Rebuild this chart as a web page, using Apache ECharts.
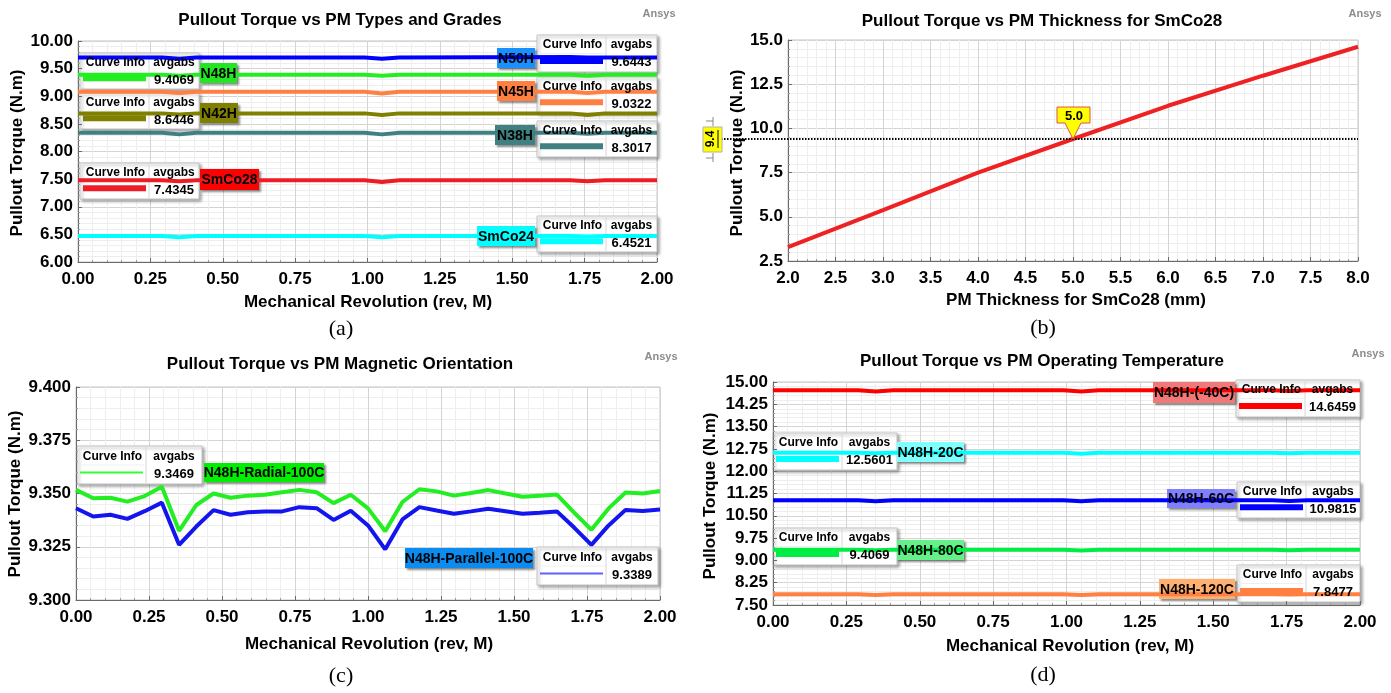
<!DOCTYPE html>
<html>
<head>
<meta charset="utf-8">
<script src="https://cdn.jsdelivr.net/npm/echarts@6/dist/echarts.min.js"></script>
<style>
html, body { margin: 0; padding: 0; background: #fff; }
#main { width: 1391px; height: 693px; }
</style>
</head>
<body>
<div id="main"></div>
<script>
// (a) PM types and grades
var revA = [0, 0.29, 0.35, 0.41, 0.99, 1.05, 1.11, 1.70, 1.76, 1.82, 2.0];
var n50h   = [9.70, 9.70, 9.68, 9.70, 9.70, 9.68, 9.70, 9.71, 9.70, 9.70, 9.70];
var n48h   = [9.39, 9.39, 9.37, 9.39, 9.39, 9.37, 9.39, 9.39, 9.37, 9.39, 9.39];
var n45h   = [9.08, 9.08, 9.06, 9.08, 9.08, 9.05, 9.08, 9.08, 9.06, 9.08, 9.08];
var n42h   = [8.69, 8.69, 8.67, 8.69, 8.69, 8.66, 8.69, 8.69, 8.66, 8.69, 8.69];
var n38h   = [8.34, 8.34, 8.31, 8.34, 8.34, 8.31, 8.34, 8.34, 8.32, 8.34, 8.34];
var smco28 = [7.48, 7.48, 7.46, 7.48, 7.48, 7.45, 7.48, 7.48, 7.46, 7.48, 7.48];
var smco24 = [6.47, 6.47, 6.45, 6.47, 6.47, 6.45, 6.47, 6.47, 6.46, 6.47, 6.47];

// (b) PM thickness for SmCo28
var thickness = [2, 3, 4, 5, 6, 7, 8];
var torqueB   = [3.28, 5.38, 7.50, 9.40, 11.28, 12.98, 14.62];
var markX = 5.0, markY = 9.4;

// (c) magnetic orientation
var revC = [0.000, 0.059, 0.118, 0.176, 0.235, 0.294, 0.353, 0.412, 0.471, 0.529, 0.588, 0.647,
            0.706, 0.765, 0.824, 0.882, 0.941, 1.000, 1.059, 1.118, 1.176, 1.235, 1.294, 1.353,
            1.412, 1.471, 1.529, 1.588, 1.647, 1.706, 1.765, 1.824, 1.882, 1.941, 2.000];
var radial = [9.3517, 9.3478, 9.3480, 9.3462, 9.3488, 9.3532, 9.3325, 9.3446, 9.3500, 9.3480, 9.3490, 9.3494,
              9.3506, 9.3517, 9.3506, 9.3455, 9.3494, 9.3430, 9.3323, 9.3460, 9.3520, 9.3510, 9.3490, 9.3502,
              9.3516, 9.3500, 9.3485, 9.3490, 9.3495, 9.3410, 9.3330, 9.3430, 9.3505, 9.3500, 9.3512];
var parallel = [9.3431, 9.3392, 9.3400, 9.3381, 9.3417, 9.3457, 9.3259, 9.3345, 9.3422, 9.3400, 9.3412, 9.3416,
                9.3416, 9.3436, 9.3431, 9.3376, 9.3419, 9.3350, 9.3238, 9.3378, 9.3436, 9.3420, 9.3405, 9.3416,
                9.3428, 9.3417, 9.3405, 9.3410, 9.3416, 9.3340, 9.3259, 9.3350, 9.3423, 9.3418, 9.3425];

// (d) operating temperature
var tm40  = [14.72, 14.72, 14.68, 14.72, 14.72, 14.68, 14.72, 14.72, 14.70, 14.72, 14.72];
var t20   = [12.62, 12.62, 12.60, 12.62, 12.62, 12.59, 12.62, 12.62, 12.60, 12.62, 12.62];
var t60   = [11.02, 11.02, 10.99, 11.02, 11.02, 10.99, 11.02, 11.02, 11.00, 11.02, 11.02];
var t80   = [9.36, 9.36, 9.34, 9.36, 9.36, 9.33, 9.36, 9.36, 9.34, 9.36, 9.36];
var t120  = [7.86, 7.86, 7.84, 7.86, 7.86, 7.84, 7.86, 7.86, 7.85, 7.86, 7.86];

var FF = "'Liberation Sans', Arial, sans-serif";

function pairs(xs, ys) {
    return xs.map(function (x, i) { return [x, ys[i]]; });
}

function axis(gi, min, max, interval, dec, isX) {
    return {
        type: 'value', gridIndex: gi, min: min, max: max, interval: interval,
        axisLine: { show: true, onZero: false, lineStyle: { color: '#6a6a6a' } },
        axisTick: { show: true, inside: true, length: 4, lineStyle: { color: '#6a6a6a' } },
        minorTick: { show: true, splitNumber: 5, length: 2, lineStyle: { color: '#9a9a9a' } },
        splitLine: { show: true, lineStyle: { color: '#d4d4d4' } },
        minorSplitLine: { show: true, lineStyle: { color: '#eeeeee' } },
        axisLabel: {
            showMinLabel: true, showMaxLabel: true, margin: isX ? 9 : 5,
            fontSize: 17, fontWeight: 'bold', color: '#000', fontFamily: FF,
            formatter: function (v) { return v.toFixed(dec); }
        }
    };
}

function line(gi, xs, ys, color, w) {
    return {
        type: 'line', xAxisIndex: gi, yAxisIndex: gi, data: pairs(xs, ys),
        showSymbol: false, symbol: 'none', animation: false,
        lineStyle: { color: color, width: w || 4 }
    };
}

function txt(x, y, s, font, fill, rot) {
    return {
        type: 'text', x: x, y: y, rotation: rot || 0, z: 60,
        style: { text: s, font: font, fill: fill || '#000',
                 align: 'center', verticalAlign: 'middle',
                 textAlign: 'center', textVerticalAlign: 'middle' }
    };
}

function infoBox(x, y, w, h, color, lw, value) {
    var col = 69;
    return {
        type: 'group', x: x, y: y, z: 50,
        children: [
            { type: 'rect', shape: { x: 0, y: 0, width: w, height: h },
              style: { fill: '#fff', stroke: '#c4c4c4', lineWidth: 1,
                       shadowBlur: 3, shadowOffsetX: 2, shadowOffsetY: 2, shadowColor: 'rgba(0,0,0,0.35)' } },
            { type: 'line', shape: { x1: col, y1: 1, x2: col, y2: h - 1 }, style: { stroke: '#d6d6d6' } },
            { type: 'line', shape: { x1: 1, y1: h / 2, x2: col, y2: h / 2 }, style: { stroke: '#efefef' } },
            txt(col / 2 + 1, h * 0.27, 'Curve Info', 'bold 12px ' + FF),
            txt((col + w) / 2, h * 0.27, 'avgabs', 'bold 12px ' + FF),
            { type: 'line', shape: { x1: 3, y1: h * 0.7, x2: col - 3, y2: h * 0.7 },
              style: { stroke: color, lineWidth: lw } },
            txt((col + w) / 2, h * 0.75, value, 'bold 13px ' + FF)
        ]
    };
}

function tag(x, y, w, h, bg, s) {
    return {
        type: 'group', x: x, y: y, z: 55,
        children: [
            { type: 'rect', shape: { x: 0, y: 0, width: w, height: h },
              style: { fill: bg, shadowBlur: 2, shadowOffsetX: 2, shadowOffsetY: 2, shadowColor: 'rgba(0,0,0,0.45)' } },
            txt(w / 2, h / 2 + 1, s, 'bold 14px ' + FF)
        ]
    };
}

var chart = echarts.init(document.getElementById('main'));

var titleStyle = { fontSize: 17, fontWeight: 'bold', color: '#000', fontFamily: FF };

chart.setOption({
    backgroundColor: '#fff',
    animation: false,
    title: [
        { text: 'Pullout Torque vs PM Types and Grades', left: 340, top: 12, textAlign: 'center', padding: 0, textStyle: titleStyle },
        { text: 'Pullout Torque vs PM Thickness for SmCo28', left: 1042, top: 13, textAlign: 'center', padding: 0, textStyle: titleStyle },
        { text: 'Pullout Torque vs PM Magnetic Orientation', left: 340, top: 356, textAlign: 'center', padding: 0, textStyle: titleStyle },
        { text: 'Pullout Torque vs PM Operating Temperature', left: 1042, top: 353, textAlign: 'center', padding: 0, textStyle: titleStyle }
    ],
    grid: [
        { left: 78, top: 41, width: 579, height: 221, show: true, borderColor: '#c4c4c4', backgroundColor: '#fff' },
        { left: 788, top: 40, width: 570, height: 221, show: true, borderColor: '#c4c4c4', backgroundColor: '#fff' },
        { left: 76, top: 387, width: 584, height: 213, show: true, borderColor: '#c4c4c4', backgroundColor: '#fff' },
        { left: 773, top: 382, width: 587, height: 223, show: true, borderColor: '#c4c4c4', backgroundColor: '#fff' }
    ],
    xAxis: [
        axis(0, 0, 2, 0.25, 2, true),
        axis(1, 2, 8, 0.5, 1, true),
        axis(2, 0, 2, 0.25, 2, true),
        axis(3, 0, 2, 0.25, 2, true)
    ],
    yAxis: [
        axis(0, 6, 10, 0.5, 2),
        axis(1, 2.5, 15, 2.5, 1),
        axis(2, 9.3, 9.4, 0.025, 3),
        axis(3, 7.5, 15, 0.75, 2)
    ],
    series: [
        line(0, revA, n50h, '#0000ff'),
        line(0, revA, n48h, '#22ee22'),
        line(0, revA, n45h, '#ff8040'),
        line(0, revA, n42h, '#808000'),
        line(0, revA, n38h, '#408080'),
        line(0, revA, smco28, '#ee1c24'),
        line(0, revA, smco24, '#00ffff'),
        line(1, thickness, torqueB, '#ee2222', 4),
        line(2, revC, radial, '#22ee22', 4),
        line(2, revC, parallel, '#1414ee', 4),
        line(3, revA, tm40, '#ff0000'),
        line(3, revA, t20, '#00ffff'),
        line(3, revA, t60, '#0000ff'),
        line(3, revA, t80, '#00ee44'),
        line(3, revA, t120, '#ff8040')
    ]
});

// marker position on panel (b) from the axis scales
var mp = chart.convertToPixel({ gridIndex: 1 }, [markX, markY]);
var rightB = chart.convertToPixel({ gridIndex: 1 }, [8, markY])[0];

var g = [];

// fixed texts
g.push(txt(659, 14, 'Ansys', 'bold 11px ' + FF, '#8c8c8c'));
g.push(txt(1365, 14, 'Ansys', 'bold 11px ' + FF, '#8c8c8c'));
g.push(txt(661, 357, 'Ansys', 'bold 11px ' + FF, '#8c8c8c'));
g.push(txt(1368, 354, 'Ansys', 'bold 11px ' + FF, '#8c8c8c'));

g.push(txt(368, 302, 'Mechanical Revolution (rev, M)', 'bold 17px ' + FF));
g.push(txt(1076, 300, 'PM Thickness for SmCo28 (mm)', 'bold 17px ' + FF));
g.push(txt(369, 644, 'Mechanical Revolution (rev, M)', 'bold 17px ' + FF));
g.push(txt(1070, 646, 'Mechanical Revolution (rev, M)', 'bold 17px ' + FF));

g.push(txt(17, 153, 'Pullout Torque (N.m)', 'bold 17px ' + FF, '#000', Math.PI / 2));
g.push(txt(737, 153, 'Pullout Torque (N.m)', 'bold 17px ' + FF, '#000', Math.PI / 2));
g.push(txt(15, 494, 'Pullout Torque (N.m)', 'bold 17px ' + FF, '#000', Math.PI / 2));
g.push(txt(710, 496, 'Pullout Torque (N.m)', 'bold 17px ' + FF, '#000', Math.PI / 2));

g.push(txt(341, 329, '(a)', '22px "Liberation Serif", serif'));
g.push(txt(1043, 328, '(b)', '22px "Liberation Serif", serif'));
g.push(txt(341, 676, '(c)', '22px "Liberation Serif", serif'));
g.push(txt(1043, 675, '(d)', '22px "Liberation Serif", serif'));

// (a) curve info and tags
g.push(infoBox(537, 35, 120, 37, '#0000ff', 6, '9.6443'));
g.push(infoBox(537, 77, 120, 36, '#ff8040', 6, '9.0322'));
g.push(infoBox(537, 121, 120, 36, '#408080', 6, '8.3017'));
g.push(infoBox(537, 216, 120, 36, '#00ffff', 6, '6.4521'));
g.push(infoBox(80, 53, 119, 36, '#22ee22', 6, '9.4069'));
g.push(infoBox(80, 93, 119, 36, '#808000', 6, '8.6446'));
g.push(infoBox(80, 163, 119, 36, '#ee1c24', 6, '7.4345'));
g.push(tag(497, 48, 38, 20, '#1a90ff', 'N50H'));
g.push(tag(497, 81, 38, 20, '#ff8040', 'N45H'));
g.push(tag(495, 125, 40, 20, '#408080', 'N38H'));
g.push(tag(477, 226, 58, 20, '#00ffff', 'SmCo24'));
g.push(tag(200, 63, 37, 20, '#22e622', 'N48H'));
g.push(tag(200, 103, 38, 20, '#808000', 'N42H'));
g.push(tag(200, 169, 59, 21, '#ff0000', 'SmCo28'));

// (c)
g.push(infoBox(77, 446, 125, 38, '#33ff33', 2, '9.3469'));
g.push(tag(204, 463, 120, 19, '#00ee00', 'N48H-Radial-100C'));
g.push(tag(405, 548, 128, 20, '#0a8cf0', 'N48H-Parallel-100C'));
g.push(infoBox(537, 547, 121, 38, '#6060ff', 2, '9.3389'));

// (d)
g.push(infoBox(1236, 380, 124, 37, '#ff0000', 6, '14.6459'));
g.push(tag(1153, 382, 82, 21, '#f07878', 'N48H-(-40C)'));
g.push(infoBox(1237, 482, 123, 36, '#0000ff', 6, '10.9815'));
g.push(tag(1167, 489, 68, 19, '#8080ff', 'N48H-60C'));
g.push(infoBox(1237, 565, 123, 37, '#ff8040', 6, '7.8477'));
g.push(tag(1159, 579, 76, 20, '#ffb070', 'N48H-120C'));
g.push(infoBox(773, 433, 124, 37, '#00ffff', 6, '12.5601'));
g.push(tag(897, 442, 67, 20, '#80ffff', 'N48H-20C'));
g.push(infoBox(773, 528, 124, 37, '#00ee44', 6, '9.4069'));
g.push(tag(897, 540, 67, 20, '#66f08a', 'N48H-80C'));

// (b) dotted marker line, value tag and point marker
g.push({ type: 'line', z: 45, shape: { x1: 703, y1: mp[1], x2: rightB, y2: mp[1] },
         style: { stroke: '#000', lineWidth: 2, lineDash: [1.5, 1.5] } });
g.push({ type: 'rect', z: 50, shape: { x: 703, y: mp[1] - 12, width: 19, height: 25 },
         style: { fill: '#ffff00', stroke: '#b0b0b0', lineWidth: 1 } });
g.push(txt(711, mp[1], '9.4', 'bold 12px ' + FF, '#000', Math.PI / 2));
g.push({ type: 'line', z: 52, shape: { x1: 718, y1: mp[1] - 9, x2: 718, y2: mp[1] + 9 }, style: { stroke: '#000', lineWidth: 1 } });
g.push({ type: 'polyline', z: 50, shape: { points: [[713, mp[1] - 22], [713, mp[1] - 13]] }, style: { stroke: '#888', lineWidth: 1 } });
g.push({ type: 'polyline', z: 50, shape: { points: [[706, mp[1] - 18], [713, mp[1] - 18]] }, style: { stroke: '#888', lineWidth: 1 } });
g.push({ type: 'polyline', z: 50, shape: { points: [[713, mp[1] + 14], [713, mp[1] + 23]] }, style: { stroke: '#888', lineWidth: 1 } });
g.push({ type: 'polyline', z: 50, shape: { points: [[706, mp[1] + 19], [713, mp[1] + 19]] }, style: { stroke: '#888', lineWidth: 1 } });
g.push({ type: 'polygon', z: 55,
         shape: { points: [[mp[0] - 16, mp[1] - 32], [mp[0] + 17, mp[1] - 32], [mp[0] + 17, mp[1] - 16],
                           [mp[0] + 8, mp[1] - 16], [mp[0], mp[1]], [mp[0] - 8, mp[1] - 16], [mp[0] - 16, mp[1] - 16]] },
         style: { fill: '#ffff00', stroke: '#e05050', lineWidth: 1 } });
g.push(txt(mp[0] + 1, mp[1] - 23, '5.0', 'bold 13px ' + FF));

chart.setOption({ graphic: { elements: g } });
</script>
</body>
</html>
